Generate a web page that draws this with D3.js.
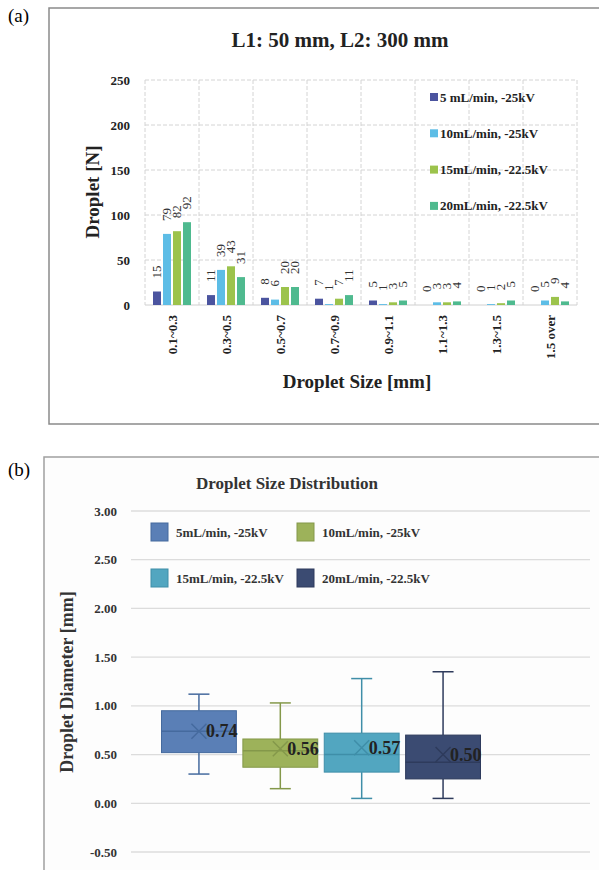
<!DOCTYPE html>
<html>
<head>
<meta charset="utf-8">
<script src="https://cdn.jsdelivr.net/npm/d3@7"></script>
<style>
body { margin: 0; background: #fff; }
svg { display: block; }
text { font-family: "Liberation Serif", "Times New Roman", serif; }
</style>
</head>
<body>
<svg id="chart" width="599" height="870"></svg>
<script>
// ---- panel (a): droplet counts per size bin
var sizeBins = ["0.1~0.3", "0.3~0.5", "0.5~0.7", "0.7~0.9", "0.9~1.1", "1.1~1.3", "1.3~1.5", "1.5 over"];
var seriesA = ["5 mL/min, -25kV", "10mL/min, -25kV", "15mL/min, -22.5kV", "20mL/min, -22.5kV"];
var counts5 = [15, 11, 8, 7, 5, 0, 0, 0];
var counts10 = [79, 39, 6, 1, 1, 3, 1, 5];
var counts15 = [82, 43, 20, 7, 3, 3, 2, 9];
var counts20 = [92, 31, 20, 11, 5, 4, 5, 4];
var colorsA = ["#4b549f", "#5dbde6", "#9cc34c", "#4fba8f"];
var yTicksA = [0, 50, 100, 150, 200, 250];

// ---- panel (b): box plot of droplet diameter
var seriesB = ["5mL/min, -25kV", "10mL/min, -25kV", "15mL/min, -22.5kV", "20mL/min, -22.5kV"];
var whiskerLow = [0.30, 0.15, 0.05, 0.05];
var q1 = [0.52, 0.37, 0.32, 0.25];
var median = [0.74, 0.54, 0.50, 0.42];
var q3 = [0.95, 0.66, 0.72, 0.70];
var whiskerHigh = [1.12, 1.03, 1.28, 1.35];
var means = [0.74, 0.56, 0.57, 0.50];
var fillB = ["#5a7fb6", "#9db25a", "#52a6c0", "#3b4b72"];
var lineB = ["#456a9e", "#84984a", "#3f8ea8", "#2e3b5c"];
var yTicksB = [-0.5, 0, 0.5, 1, 1.5, 2, 2.5, 3];

var svg = d3.select("#chart");
var fmt2 = function(v){ return v.toFixed(2); };   // keeps a plain hyphen for negatives

// ================= panel (a) =================
var countsA = [counts5, counts10, counts15, counts20];

svg.append("text").attr("x", 8).attr("y", 22)
    .attr("font-size", 19).text("(a)");
svg.append("rect").attr("x", 49).attr("y", 8).attr("width", 600).attr("height", 416)
    .attr("fill", "#fff").attr("stroke", "#8a8a8a").attr("stroke-width", 1.5);

var gA = svg.append("g");
var xA = d3.scaleBand().domain(sizeBins).range([145, 577]);
var xInner = d3.scaleBand().domain(seriesA).range([7, 47]).paddingInner(0.2).paddingOuter(0.1);
var yA = d3.scaleLinear().domain([0, 250]).range([305, 80]);

gA.append("text").attr("x", 340).attr("y", 47).attr("text-anchor", "middle")
    .attr("font-size", 21).attr("font-weight", "bold").attr("fill", "#222")
    .text("L1: 50 mm, L2: 300 mm");

// grid
gA.selectAll(".hg").data(yTicksA.slice(1)).enter().append("line")
    .attr("x1", 145).attr("x2", 577)
    .attr("y1", function(d){ return yA(d); }).attr("y2", function(d){ return yA(d); })
    .attr("stroke", "#d4d4d4").attr("stroke-dasharray", "4,2");
var bounds = sizeBins.map(function(d){ return xA(d); }).concat([577]);
gA.selectAll(".vg").data(bounds).enter().append("line")
    .attr("x1", function(d){ return d; }).attr("x2", function(d){ return d; })
    .attr("y1", 80).attr("y2", 305)
    .attr("stroke", "#d4d4d4").attr("stroke-dasharray", "4,2");
gA.append("line").attr("x1", 145).attr("x2", 577).attr("y1", yA(0)).attr("y2", yA(0))
    .attr("stroke", "#d0d0d0");

// y axis labels
gA.selectAll(".yt").data(yTicksA).enter().append("text")
    .attr("x", 130).attr("y", function(d){ return yA(d); }).attr("dy", "0.35em")
    .attr("text-anchor", "end").attr("font-size", 13).attr("font-weight", "bold")
    .attr("fill", "#222").text(function(d){ return d; });

gA.append("text").attr("transform", "translate(99,192) rotate(-90)")
    .attr("text-anchor", "middle").attr("font-size", 19).attr("font-weight", "bold")
    .attr("fill", "#222").text("Droplet [N]");

// bars
seriesA.forEach(function(s, si){
    var g = gA.append("g");
    g.selectAll("rect").data(countsA[si]).enter().append("rect")
        .attr("x", function(d, i){ return xA(sizeBins[i]) + xInner(s); })
        .attr("width", xInner.bandwidth())
        .attr("y", function(d){ return yA(d); })
        .attr("height", function(d){ return yA(0) - yA(d); })
        .attr("fill", colorsA[si]);
    g.selectAll("text").data(countsA[si]).enter().append("text")
        .attr("transform", function(d, i){
            var cx = xA(sizeBins[i]) + xInner(s) + xInner.bandwidth() / 2;
            return "translate(" + (cx + 4) + "," + (yA(d) - 13) + ") rotate(-90)";
        })
        .attr("font-size", 13).attr("fill", "#333")
        .text(function(d){ return d; });
});

// x tick labels
gA.selectAll(".xt").data(sizeBins).enter().append("text")
    .attr("transform", function(d){
        return "translate(" + (xA(d) + xA.bandwidth() / 2 + 5) + ",315) rotate(-90)";
    })
    .attr("text-anchor", "end").attr("font-size", 13).attr("font-weight", "bold")
    .attr("fill", "#222").text(function(d){ return d; });

gA.append("text").attr("x", 357).attr("y", 388).attr("text-anchor", "middle")
    .attr("font-size", 19).attr("font-weight", "bold").attr("fill", "#222")
    .text("Droplet Size [mm]");

// legend
var legA = gA.selectAll(".lga").data(seriesA).enter().append("g")
    .attr("transform", function(d, i){ return "translate(430," + (97 + i * 36.3) + ")"; });
legA.append("rect").attr("x", 0).attr("y", -4).attr("width", 8).attr("height", 8)
    .attr("fill", function(d, i){ return colorsA[i]; });
legA.append("text").attr("x", 10).attr("dy", "0.35em")
    .attr("font-size", 13).attr("font-weight", "bold").attr("fill", "#222")
    .text(function(d){ return d; });

// ================= panel (b) =================
svg.append("text").attr("x", 8).attr("y", 476)
    .attr("font-size", 19).text("(b)");
svg.append("rect").attr("x", 44).attr("y", 457).attr("width", 600).attr("height", 430)
    .attr("fill", "#fdfdfd").attr("stroke", "#a0a0a0").attr("stroke-width", 1.5);

var gB = svg.append("g");
var xB = d3.scaleBand().domain(seriesB).range([155, 487]).paddingInner(0.08).paddingOuter(0.08);
var yB = d3.scaleLinear().domain([-0.5, 3]).range([852, 511]);

gB.append("text").attr("x", 287).attr("y", 489).attr("text-anchor", "middle")
    .attr("font-size", 17).attr("font-weight", "bold").attr("fill", "#333")
    .text("Droplet Size Distribution");

gB.selectAll(".hg").data(yTicksB).enter().append("line")
    .attr("x1", 131).attr("x2", 590)
    .attr("y1", function(d){ return yB(d); }).attr("y2", function(d){ return yB(d); })
    .attr("stroke", "#dcdcdc").attr("stroke-width", 1.3);

gB.selectAll(".yt").data(yTicksB).enter().append("text")
    .attr("x", 117).attr("y", function(d){ return yB(d); }).attr("dy", "0.35em")
    .attr("text-anchor", "end").attr("font-size", 13).attr("font-weight", "bold")
    .attr("fill", "#333").text(function(d){ return fmt2(d); });

gB.append("text").attr("transform", "translate(73,682) rotate(-90)")
    .attr("text-anchor", "middle").attr("font-size", 18).attr("font-weight", "bold")
    .attr("fill", "#333").text("Droplet Diameter [mm]");

// legend
var legPos = [[151, 523], [297, 523], [151, 569], [297, 569]];
var legB = gB.selectAll(".lgb").data(seriesB).enter().append("g")
    .attr("transform", function(d, i){ return "translate(" + legPos[i][0] + "," + legPos[i][1] + ")"; });
legB.append("rect").attr("width", 17).attr("height", 18)
    .attr("fill", function(d, i){ return fillB[i]; })
    .attr("stroke", function(d, i){ return lineB[i]; });
legB.append("text").attr("x", 25).attr("y", 9).attr("dy", "0.35em")
    .attr("font-size", 13).attr("font-weight", "bold").attr("fill", "#333")
    .text(function(d){ return d; });

// boxes
seriesB.forEach(function(s, i){
    var g = gB.append("g");
    var x0 = xB(s), bw = xB.bandwidth(), cx = x0 + bw / 2;
    g.append("line").attr("x1", cx).attr("x2", cx)
        .attr("y1", yB(whiskerHigh[i])).attr("y2", yB(q3[i]))
        .attr("stroke", lineB[i]).attr("stroke-width", 1.5);
    g.append("line").attr("x1", cx).attr("x2", cx)
        .attr("y1", yB(q1[i])).attr("y2", yB(whiskerLow[i]))
        .attr("stroke", lineB[i]).attr("stroke-width", 1.5);
    [whiskerHigh[i], whiskerLow[i]].forEach(function(v){
        g.append("line").attr("x1", cx - 10.5).attr("x2", cx + 10.5)
            .attr("y1", yB(v)).attr("y2", yB(v))
            .attr("stroke", lineB[i]).attr("stroke-width", 1.5);
    });
    g.append("rect").attr("x", x0).attr("width", bw)
        .attr("y", yB(q3[i])).attr("height", yB(q1[i]) - yB(q3[i]))
        .attr("fill", fillB[i]).attr("stroke", lineB[i]).attr("stroke-width", 1);
    g.append("line").attr("x1", x0).attr("x2", x0 + bw)
        .attr("y1", yB(median[i])).attr("y2", yB(median[i]))
        .attr("stroke", lineB[i]).attr("stroke-width", 1.5);
    var my = yB(means[i]), r = 7.5;
    g.append("path")
        .attr("d", "M" + (cx - r) + "," + (my - r) + "L" + (cx + r) + "," + (my + r) +
                   "M" + (cx - r) + "," + (my + r) + "L" + (cx + r) + "," + (my - r))
        .attr("stroke", lineB[i]).attr("stroke-width", 1.5).attr("fill", "none");
    g.append("text").attr("x", cx + 7).attr("y", my).attr("dy", "0.35em")
        .attr("font-size", 18).attr("font-weight", "bold").attr("fill", "#222")
        .text(fmt2(means[i]));
});
</script>
</body>
</html>
